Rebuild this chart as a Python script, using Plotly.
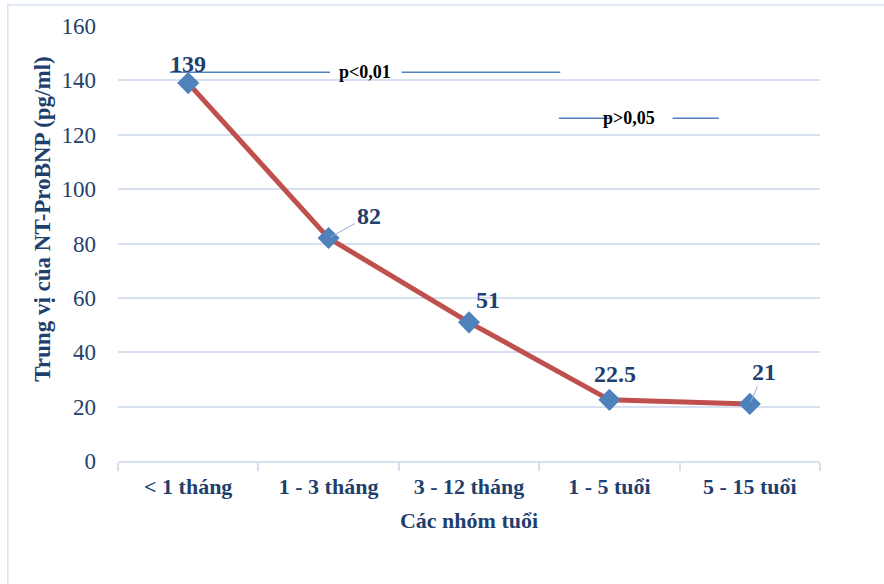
import plotly.graph_objects as go

# Median NT-ProBNP by age group
age_groups = ["< 1 tháng", "1 - 3 tháng", "3 - 12 tháng", "1 - 5 tuổi", "5 - 15 tuổi"]
median_values = [139, 82, 51, 22.5, 21]
value_labels = ["139", "82", "51", "22.5", "21"]
y_ticks = [0, 20, 40, 60, 80, 100, 120, 140, 160]

NAVY = "#1F3F6E"
GRID = "#D6E0F0"
SERIF = "Liberation Serif, DejaVu Serif, serif"
LABEL_FONT = dict(family=SERIF, size=24, color=NAVY)

fig = go.Figure()
fig.add_trace(go.Scatter(
    x=age_groups,
    y=median_values,
    mode="lines+markers",
    line=dict(color="#C0504D", width=5),
    marker=dict(symbol="diamond", size=17, color="#4F81BD",
                line=dict(color="#4F81BD", width=0)),
    hoverinfo="skip",
    showlegend=False,
))

# Data labels: (pixel dx, pixel dy, leader line?)
label_offsets = [(0, 4, False), (40, -22, True), (19, 7, False), (6, 11, False), (14, -32, True)]
for cat, val, txt, (dx, dy, leader) in zip(age_groups, median_values, value_labels, label_offsets):
    if leader:
        fig.add_annotation(
            x=cat, y=val, text=f"<b>{txt}</b>",
            showarrow=True, arrowhead=0, arrowwidth=1, arrowcolor="#8DB3E2",
            standoff=2, ax=dx, ay=dy, font=LABEL_FONT,
        )
    else:
        fig.add_annotation(
            x=cat, y=val, text=f"<b>{txt}</b>", showarrow=False,
            xshift=dx, yshift=dy, xanchor="center", yanchor="bottom",
            font=LABEL_FONT,
        )

# Significance brackets
p_lines = [
    (-0.13, 1.01, 143.0), (1.52, 2.65, 143.0),
    (2.64, 3.01, 126.1), (3.45, 3.78, 126.1),
]
for x0, x1, yv in p_lines:
    fig.add_shape(type="line", xref="x", yref="y", x0=x0, x1=x1, y0=yv, y1=yv,
                  line=dict(color="#4F81BD", width=1.5))
fig.add_annotation(x=1.257, y=143.0, xref="x", yref="y", text="<b>p<0,01</b>",
                   showarrow=False, font=dict(family=SERIF, size=18, color="black"))
fig.add_annotation(x=3.14, y=126.1, xref="x", yref="y", text="<b>p>0,05</b>",
                   showarrow=False, font=dict(family=SERIF, size=18, color="black"))

# Y axis title
fig.add_annotation(x=-0.108, y=0.555, xref="paper", yref="paper",
                   text="<b>Trung vị của NT-ProBNP (pg/ml)</b>", textangle=-90,
                   showarrow=False, xanchor="center", yanchor="middle",
                   font=dict(family=SERIF, size=23, color=NAVY))

# Chart area border
fig.add_shape(type="rect", xref="paper", yref="paper",
              x0=-0.157, x1=1.2, y0=-0.4, y1=1.048,
              line=dict(color="#D9E2F3", width=1.5), fillcolor="rgba(0,0,0,0)", layer="below")

fig.update_layout(
    width=884, height=584,
    margin=dict(l=118, r=64, t=26, b=123),
    plot_bgcolor="white", paper_bgcolor="white",
    font=dict(family=SERIF, color=NAVY),
    xaxis=dict(
        type="category",
        tickson="boundaries",
        ticks="outside", ticklen=8, tickcolor=GRID, tickwidth=1.5,
        showline=True, linecolor=GRID, linewidth=1.5,
        showgrid=False,
        ticklabelstandoff=5,
        tickfont=dict(family=SERIF, size=22, color=NAVY, weight="bold"),
        title=dict(text="<b>Các nhóm tuổi</b>", font=dict(family=SERIF, size=22, color=NAVY), standoff=14),
        range=[-0.5, 4.5],
    ),
    yaxis=dict(
        range=[0, 160],
        tickvals=y_ticks,
        showgrid=True, gridcolor=GRID, gridwidth=1.5,
        zeroline=False, showline=False,
        ticks="", ticklabelstandoff=21,
        tickfont=dict(family=SERIF, size=23, color=NAVY),
    ),
)

fig.write_html("out.html")
